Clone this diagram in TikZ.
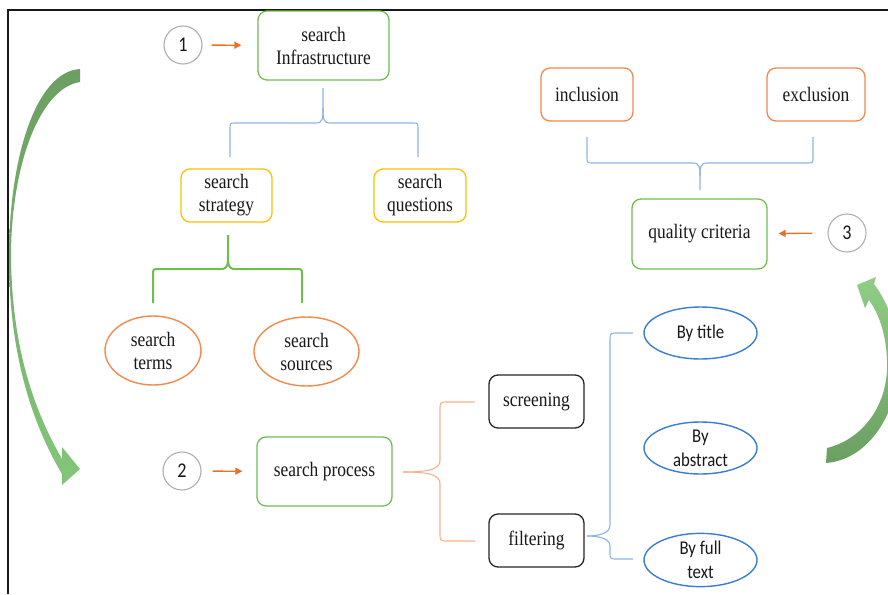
\documentclass[tikz,border=0pt]{standalone}
\usepackage{fontspec}
\setmainfont{Liberation Serif}[FakeStretch=0.85]
\newfontfamily\calibri{Carlito}[FakeStretch=0.86]
\usetikzlibrary{arrows.meta,shapes.geometric}
\definecolor{gbox}{RGB}{112,190,80}
\definecolor{ybox}{RGB}{255,192,0}
\definecolor{obox}{RGB}{242,138,76}
\definecolor{bell}{RGB}{58,125,214}
\definecolor{lblue}{RGB}{140,180,226}
\definecolor{lorange}{RGB}{248,178,138}
\definecolor{gcirc}{RGB}{175,175,175}
\definecolor{oarr}{RGB}{237,110,40}
\definecolor{txt}{RGB}{25,25,25}
\definecolor{dgreen}{RGB}{108,158,98}
\definecolor{lgreen}{RGB}{130,198,120}
\definecolor{mgreen}{RGB}{144,206,134}
\tikzset{
  every node/.style={text=txt, font=\fontsize{20.5}{23}\selectfont, align=center},
  rbox/.style={draw, rounded corners=9, line width=1.3, inner sep=0pt},
  ell/.style={draw, ellipse, line width=1.4, inner sep=0pt},
  sansell/.style={ell, draw=bell, minimum width=113, minimum height=52, font=\calibri\fontsize{19.5}{24}\selectfont},
  numc/.style={draw=gcirc, circle, line width=1.1, minimum size=38, inner sep=0pt, font=\calibri\fontsize{21}{22}\selectfont},
  oarrow/.style={draw=oarr, line width=1.3, -{Triangle[length=7pt,width=7pt]}, oarr},
  bracebl/.style={draw=lblue, line width=1.1},
  braceor/.style={draw=lorange, line width=1.1},
  bracegr/.style={draw=gbox, line width=2},
}
\begin{document}
\begin{tikzpicture}[x=1pt,y=-1pt]
\useasboundingbox (0,0) rectangle (888,594);
\fill[white] (0,0) rectangle (888,594);
% frame
\draw[line width=1.8, black!90] (888,10) -- (8,10) -- (8,594);

% nodes
\node[numc] (n1) at (183,45) {1};
\node[rbox, draw=gbox, minimum width=131, minimum height=69] (infra) at (323.5,45.5) {search\\Infrastructure};
\node[rbox, draw=ybox, minimum width=91, minimum height=53] (strat) at (226.5,195.5) {search\\strategy};
\node[rbox, draw=ybox, minimum width=92, minimum height=53] (quest) at (420,195.5) {search\\questions};
\node[ell, draw=obox, minimum width=96, minimum height=69] (terms) at (153,350.5) {search\\terms};
\node[ell, draw=obox, minimum width=105, minimum height=69] (sources) at (306.5,351.5) {search\\sources};
\node[numc] (n2) at (182,471) {2};
\node[rbox, draw=gbox, minimum width=135, minimum height=69] (proc) at (324.5,471.5) {search process};
\node[rbox, draw=black!85, minimum width=95, minimum height=53] (screen) at (536.5,401.5) {screening};
\node[rbox, draw=black!85, minimum width=95, minimum height=53] (filt) at (536.5,540.5) {filtering};
\node[sansell] (title) at (700.5,333) {By title};
\node[sansell] (abstr) at (700.5,448) {By\\abstract};
\node[sansell] (full) at (700.5,560) {By full\\text};
\node[rbox, draw=obox, minimum width=92, minimum height=53] (incl) at (587,94.5) {inclusion};
\node[rbox, draw=obox, minimum width=98, minimum height=53] (excl) at (816,94.5) {exclusion};
\node[rbox, draw=gbox, minimum width=135, minimum height=70] (qual) at (699.5,234) {quality criteria};
\node[numc] (n3) at (847,233) {3};

% small orange arrows
\draw[oarrow, shorten <=9pt, shorten >=16pt] (n1) -- (infra);
\draw[oarrow, shorten <=11pt, shorten >=14pt] (n2) -- (proc);
\draw[oarrow, shorten <=15pt, shorten >=11pt] (n3) -- (qual);

% brace under search Infrastructure
\draw[bracebl] (230,157) -- (230,129) .. controls (230,123) .. (236,123) -- (316,123) .. controls (323,123) and (323,118) .. (323,108) -- (323,88);
\draw[bracebl] (418,157) -- (418,129) .. controls (418,123) .. (412,123) -- (330,123) .. controls (323,123) and (323,118) .. (323,108);

% green brace under search strategy
\draw[bracegr] (153,303) -- (153,275) .. controls (153,269) .. (159,269) -- (221,269) .. controls (228,269) and (228,264) .. (228,255) -- (228,235);
\draw[bracegr] (302,303) -- (302,275) .. controls (302,269) .. (296,269) -- (235,269) .. controls (228,269) and (228,264) .. (228,255);

% orange brace from search process
\draw[braceor] (475,402) -- (448,402) .. controls (440,402) .. (440,410) -- (440,460) .. controls (440,469) and (430,472) .. (403,472);
\draw[braceor] (475,541) -- (448,541) .. controls (440,541) .. (440,533) -- (440,484) .. controls (440,475) and (430,472) .. (403,472);

% blue brace from filtering
\draw[bracebl] (633,333) -- (618,333) .. controls (610,333) .. (610,341) -- (610,525) .. controls (610,533) and (600,536) .. (587,536);
\draw[bracebl] (587,536) .. controls (600,536) and (610,539) .. (610,546) -- (610,552) .. controls (610,559) .. (618,559) -- (633,559);

% blue brace under inclusion / exclusion
\draw[bracebl] (587,137) -- (587,157) .. controls (587,163) .. (593,163) -- (693,163) .. controls (700,163) and (700,168) .. (700,176) -- (700,190);
\draw[bracebl] (813,137) -- (813,157) .. controls (813,163) .. (807,163) -- (707,163) .. controls (700,163) and (700,168) .. (700,176);

% big curved arrow left
\shade[top color=dgreen, bottom color=lgreen]
  (80,69) .. controls (35,72) and (9,160) .. (9,257)
  .. controls (9,350) and (30,420) .. (62,474)
  -- (62,485) -- (80,469) -- (62,447) -- (62,459)
  .. controls (35,412) and (12,350) .. (11,257)
  .. controls (11,165) and (40,88) .. (80,82) -- cycle;

% big curved arrow right (clipped at the edge)
\begin{scope}
\clip (0,0) rectangle (888,594);
\shade[top color=mgreen, bottom color=dgreen]
  (827,448) .. controls (860,440) and (885,410) .. (887,370)
  .. controls (888,340) and (880,315) .. (869,300)
  -- (865,308) -- (857,285) -- (876,277) -- (874,284)
  .. controls (890,305) and (900,335) .. (898,370)
  .. controls (895,420) and (865,460) .. (826,463) -- cycle;
\end{scope}
\end{tikzpicture}
\end{document}
